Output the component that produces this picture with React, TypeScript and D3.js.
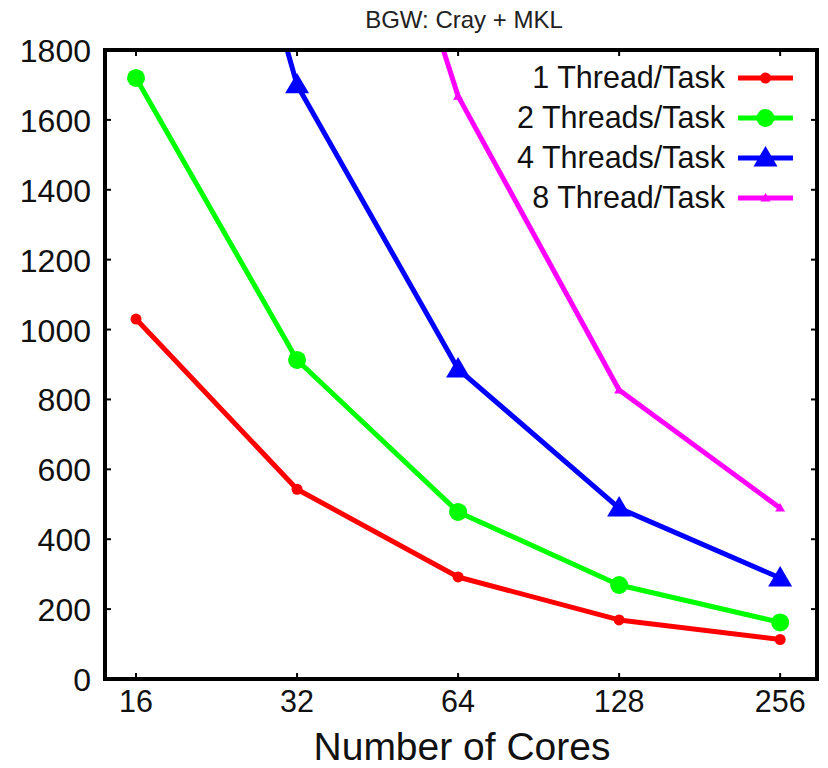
import React from "react";
import * as d3 from "d3";

const cores = [16, 32, 64, 128, 256];
const oneThread = [1030, 543, 292, 169, 113];
const twoThreads = [1720, 913, 478, 269, 162];
const fourThreads = [3330, 1700, 887, 489, 289];
const eightThreads = [6200, 3110, 1668, 827, 489];
const yTicks = [0, 200, 400, 600, 800, 1000, 1200, 1400, 1600, 1800];
const seriesNames = ["1 Thread/Task", "2 Threads/Task", "4 Threads/Task", "8 Thread/Task"];
const seriesColors = ["#ff0000", "#00ff00", "#0000ff", "#ff00ff"];
const seriesMarkers = ["smallCircle", "circle", "triangle", "smallTriangle"];

const W = 828, H = 768;
const L = 105, R = 817, T = 50, B = 679;

export default function App() {
  const x = d3.scaleLog().base(2).domain([14, 300]).range([L, R]);
  const y = d3.scaleLinear().domain([0, 1800]).range([B, T]);
  const series = [oneThread, twoThreads, fourThreads, eightThreads];
  const line = d3.line<[number, number]>().x(d => x(d[0])).y(d => y(d[1]));
  const font = "'Liberation Sans', Arial, Helvetica, sans-serif";

  const marker = (kind: string, cx: number, cy: number, color: string, key: string) => {
    if (kind === "smallCircle") return <circle key={key} cx={cx} cy={cy} r={5.5} fill={color} />;
    if (kind === "circle") return <circle key={key} cx={cx} cy={cy} r={9} fill={color} />;
    if (kind === "triangle") {
      const s = 12;
      return <path key={key} d={`M${cx},${cy - s}L${cx + s},${cy + s * 0.7}L${cx - s},${cy + s * 0.7}Z`} fill={color} />;
    }
    const s = 5;
    return <path key={key} d={`M${cx},${cy - s}L${cx + s},${cy + s * 0.7}L${cx - s},${cy + s * 0.7}Z`} fill={color} />;
  };

  const legendY = [78, 118, 158, 198];

  return (
    <svg width={W} height={H} style={{ position: "absolute", left: 0, top: 0, background: "#fff" }}>
      <defs>
        <clipPath id="plot">
          <rect x={L} y={T} width={R - L} height={B - T} />
        </clipPath>
      </defs>
      <rect x={0} y={0} width={W} height={H} fill="#fff" />
      <text x={464} y={28} textAnchor="middle" fontFamily={font} fontSize={24} fill="#222">BGW: Cray + MKL</text>
      <g clipPath="url(#plot)">
        {series.map((vals, i) => (
          <g key={i}>
            <path d={line(cores.map((c, j) => [c, vals[j]] as [number, number])) || ""} fill="none" stroke={seriesColors[i]} strokeWidth={5} strokeLinejoin="round" />
            {cores.map((c, j) => marker(seriesMarkers[i], x(c), y(vals[j]), seriesColors[i], `m${i}-${j}`))}
          </g>
        ))}
      </g>
      {yTicks.map(t => (
        <g key={`yt${t}`}>
          <line x1={L} x2={L + 6} y1={y(t)} y2={y(t)} stroke="#000" strokeWidth={2} />
          <line x1={R} x2={R - 6} y1={y(t)} y2={y(t)} stroke="#000" strokeWidth={2} />
          <text x={91} y={y(t) + 12} textAnchor="end" fontFamily={font} fontSize={32} fill="#111">{t}</text>
        </g>
      ))}
      {cores.map(c => (
        <g key={`xt${c}`}>
          <line x1={x(c)} x2={x(c)} y1={B} y2={B - 6} stroke="#000" strokeWidth={2} />
          <line x1={x(c)} x2={x(c)} y1={T} y2={T + 6} stroke="#000" strokeWidth={2} />
          <text x={x(c)} y={712} textAnchor="middle" fontFamily={font} fontSize={30.5} fill="#111">{c}</text>
        </g>
      ))}
      <rect x={L} y={T} width={R - L} height={B - T} fill="none" stroke="#000" strokeWidth={4} />
      {seriesNames.map((n, i) => (
        <g key={n}>
          <text x={725} y={legendY[i] + 10} textAnchor="end" fontFamily={font} fontSize={30.5} fill="#111">{n}</text>
          <line x1={738} x2={793} y1={legendY[i]} y2={legendY[i]} stroke={seriesColors[i]} strokeWidth={5} />
          {marker(seriesMarkers[i], 765.5, legendY[i], seriesColors[i], `lg${i}`)}
        </g>
      ))}
      <text x={462} y={760} textAnchor="middle" fontFamily={font} fontSize={39} fill="#111">Number of Cores</text>
    </svg>
  );
}
